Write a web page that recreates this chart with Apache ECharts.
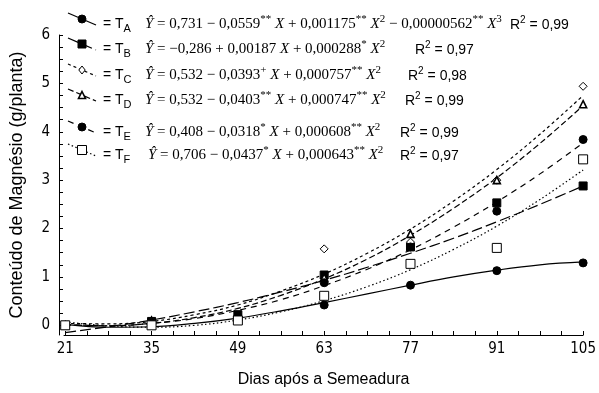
<!DOCTYPE html>
<html><head><meta charset="utf-8">
<script src="https://cdn.jsdelivr.net/npm/echarts@6/dist/echarts.min.js"></script>
<style>html,body{margin:0;padding:0;background:#fff}#c{width:599px;height:393px}</style>
</head><body><div id="c"></div>
<script>
// observed days and values (g/planta)
const days = [21, 35, 49, 63, 77, 91, 105];
const obsA = [0.00, 0.02, 0.15, 0.42, 0.83, 1.13, 1.29];
const obsB = [0.00, 0.08, 0.22, 1.04, 1.62, 2.53, 2.88];
const obsC = [0.00, 0.10, 0.18, 1.58, 1.72, 3.00, 4.94];
const obsD = [0.00, 0.10, 0.18, 0.99, 1.89, 3.00, 4.57];
const obsE = [0.00, 0.05, 0.18, 0.88, 1.62, 2.36, 3.84];
const obsF = [0.00, 0.00, 0.10, 0.61, 1.27, 1.60, 3.43];
// fitted curves
const fitDays = [21, 28, 35, 42, 49, 56, 63, 70, 77, 84, 91, 98, 105];
const fitA = [0.02, -0.04, -0.03, 0.04, 0.15, 0.30, 0.47, 0.65, 0.83, 1.00, 1.14, 1.25, 1.31];
const fitB = [-0.15, -0.03, 0.11, 0.28, 0.47, 0.69, 0.93, 1.20, 1.49, 1.80, 2.14, 2.50, 2.88];
const fitC = [0.04, 0.03, 0.08, 0.22, 0.42, 0.71, 1.06, 1.49, 1.99, 2.57, 3.22, 3.95, 4.75];
const fitD = [0.02, -0.01, 0.04, 0.16, 0.35, 0.62, 0.96, 1.37, 1.86, 2.42, 3.05, 3.76, 4.54];
const fitE = [0.01, -0.01, 0.04, 0.14, 0.31, 0.53, 0.82, 1.16, 1.56, 2.03, 2.55, 3.13, 3.77];
const fitF = [0.07, -0.01, -0.04, 0.00, 0.11, 0.28, 0.51, 0.80, 1.15, 1.57, 2.05, 2.60, 3.21];
// tick labels
const xLabels = [21, 35, 49, 63, 77, 91, 105];
const yLabels = [0, 1, 2, 3, 4, 5, 6];
const treatments = ['A', 'B', 'C', 'D', 'E', 'F'];
const equations = [
  '{i|Ŷ}{n| = 0,731 − 0,0559}{s|**}{i| X}{n| + 0,001175}{s|**}{i| X}{p|2}{n| − 0,00000562}{s|**}{i| X}{p|3}',
  '{i|Ŷ}{n| = −0,286 + 0,00187}{i| X}{n| + 0,000288}{s|*}{i| X}{p|2}',
  '{i|Ŷ}{n| = 0,532 − 0,0393}{s|+}{i| X}{n| + 0,000757}{s|**}{i| X}{p|2}',
  '{i|Ŷ}{n| = 0,532 − 0,0403}{s|**}{i| X}{n| + 0,000747}{s|**}{i| X}{p|2}',
  '{i|Ŷ}{n| = 0,408 − 0,0318}{s|*}{i| X}{n| + 0,000608}{s|**}{i| X}{p|2}',
  '{i|Ŷ}{n| = 0,706 − 0,0437}{s|*}{i| X}{n| + 0,000643}{s|**}{i| X}{p|2}'
];
const r2 = ['0,99', '0,97', '0,98', '0,99', '0,99', '0,97'];

const obs = [obsA, obsB, obsC, obsD, obsE, obsF];
const fits = [fitA, fitB, fitC, fitD, fitE, fitF];

const narrow = "'Liberation Sans Narrow','DejaVu Sans Condensed','Liberation Sans',sans-serif";
const sans = "'Liberation Sans',Arial,sans-serif";
const serif = "'Liberation Serif','Times New Roman',serif";

const styles = [
  {dash: 'solid', sym: 'circle', size: 8, fill: '#000'},
  {dash: [11, 4], sym: 'rect', size: 8, fill: '#000'},
  {dash: [3, 3], sym: 'diamond', size: 8, fill: '#fff'},
  {dash: [6, 3], sym: 'triangle', size: 7, fill: '#fff', bw: 1.6},
  {dash: [6, 5], sym: 'circle', size: 8, fill: '#000'},
  {dash: [1.5, 2.5], sym: 'rect', size: 9, fill: '#fff'}
];

const xTicks = [];
for (let i = 0; i <= 24; i++) xTicks.push(21 + i * 3.5);
const yTicks = [];
for (let i = 0; i <= 24; i++) yTicks.push(i * 0.25);

const series = [];
fits.forEach((f, k) => {
  series.push({
    type: 'line', smooth: 0.4, showSymbol: false, silent: true, z: 2,
    data: fitDays.map((d, i) => [d, f[i]]),
    lineStyle: {color: '#000', width: 1.2, type: styles[k].dash}
  });
});
obs.forEach((o, k) => {
  const s = styles[k];
  series.push({
    type: 'scatter', z: 3, symbol: s.sym, symbolSize: s.size,
    data: days.map((d, i) => [d, o[i]]),
    itemStyle: {color: s.fill, borderColor: '#000', borderWidth: s.bw || 1, opacity: 1}
  });
});

// legend graphics
const rowY = [24, 49, 75, 100, 132, 155];
const eqX = [145, 145, 145, 145, 145, 148];
const r2X = [510, 415, 408, 405, 400, 400];
const graphic = [];
treatments.forEach((t, k) => {
  const y = rowY[k], s = styles[k];
  graphic.push({type: 'polyline', shape: {points: [[68, y - 11], [96, y + 1]]},
    style: {stroke: '#000', lineWidth: 1.2, lineDash: s.dash === 'solid' ? null : s.dash, fill: null}});
  const mx = 82, my = y - 5, h = s.size / 2;
  let m;
  if (s.sym === 'circle') m = {type: 'circle', shape: {cx: mx, cy: my, r: h}};
  else if (s.sym === 'rect') m = {type: 'rect', shape: {x: mx - h, y: my - h, width: s.size, height: s.size}};
  else if (s.sym === 'diamond') m = {type: 'polygon', shape: {points: [[mx, my - h], [mx + h * 0.8, my], [mx, my + h], [mx - h * 0.8, my]]}};
  else m = {type: 'polygon', shape: {points: [[mx, my - h], [mx + h, my + h], [mx - h, my + h]]}};
  m.style = {fill: s.fill, stroke: '#000', lineWidth: s.bw || 1};
  graphic.push(m);
  graphic.push({type: 'text', x: 103, y: y, style: {
    text: '{t|= T}{u|' + t + '}', verticalAlign: 'middle', fill: '#000',
    rich: {t: {fontFamily: sans, fontSize: 14, lineHeight: 20, fill: '#000'},
           u: {fontFamily: sans, fontSize: 11, lineHeight: 13, verticalAlign: 'bottom', fill: '#000'}}}});
  graphic.push({type: 'text', x: eqX[k], y: y, style: {
    text: equations[k], verticalAlign: 'middle', fill: '#000',
    rich: {i: {fontFamily: serif, fontStyle: 'italic', fontSize: 15, lineHeight: 20, fill: '#000'},
           n: {fontFamily: serif, fontSize: 15, lineHeight: 20, fill: '#000'},
           s: {fontFamily: serif, fontSize: 11, lineHeight: 11, verticalAlign: 'top', fill: '#000'},
           p: {fontFamily: serif, fontSize: 11, lineHeight: 12, verticalAlign: 'top', fill: '#000'}}}});
  graphic.push({type: 'text', x: r2X[k], y: y + 1, style: {
    text: '{r|R}{q|2}{r| = ' + r2[k] + '}', verticalAlign: 'middle', fill: '#000',
    rich: {r: {fontFamily: sans, fontSize: 14, lineHeight: 20, fill: '#000'},
           q: {fontFamily: sans, fontSize: 10, lineHeight: 12, verticalAlign: 'top', fill: '#000'}}}});
});

const chart = echarts.init(document.getElementById('c'), null, {renderer: 'canvas'});
chart.setOption({
  animation: false,
  backgroundColor: '#fff',
  grid: {left: 57, right: 15, top: 35, bottom: 51},
  xAxis: {
    type: 'value', min: 20.8, max: 105,
    name: 'Dias após a Semeadura', nameLocation: 'middle', nameGap: 37,
    nameTextStyle: {color: '#000', fontFamily: sans, fontSize: 16},
    axisLine: {onZero: false, lineStyle: {color: '#000', width: 1}},
    axisTick: {inside: true, length: 4, customValues: xTicks, lineStyle: {color: '#000'}},
    axisLabel: {customValues: xLabels, color: '#000', fontFamily: narrow, fontSize: 15, margin: 7},
    splitLine: {show: false}
  },
  yAxis: {
    type: 'value', min: -0.2, max: 6, offset: 5,
    name: 'Conteúdo de Magnésio (g/planta)', nameLocation: 'middle', nameGap: 33,
    nameTextStyle: {color: '#000', fontFamily: sans, fontSize: 18},
    axisLine: {show: true, onZero: false, lineStyle: {color: '#000', width: 1}},
    axisTick: {show: true, inside: true, length: 4, customValues: yTicks, lineStyle: {color: '#000'}},
    axisLabel: {customValues: yLabels, color: '#000', fontFamily: narrow, fontSize: 15, margin: 9},
    splitLine: {show: false}
  },
  series: series,
  graphic: graphic
});
</script></body></html>
